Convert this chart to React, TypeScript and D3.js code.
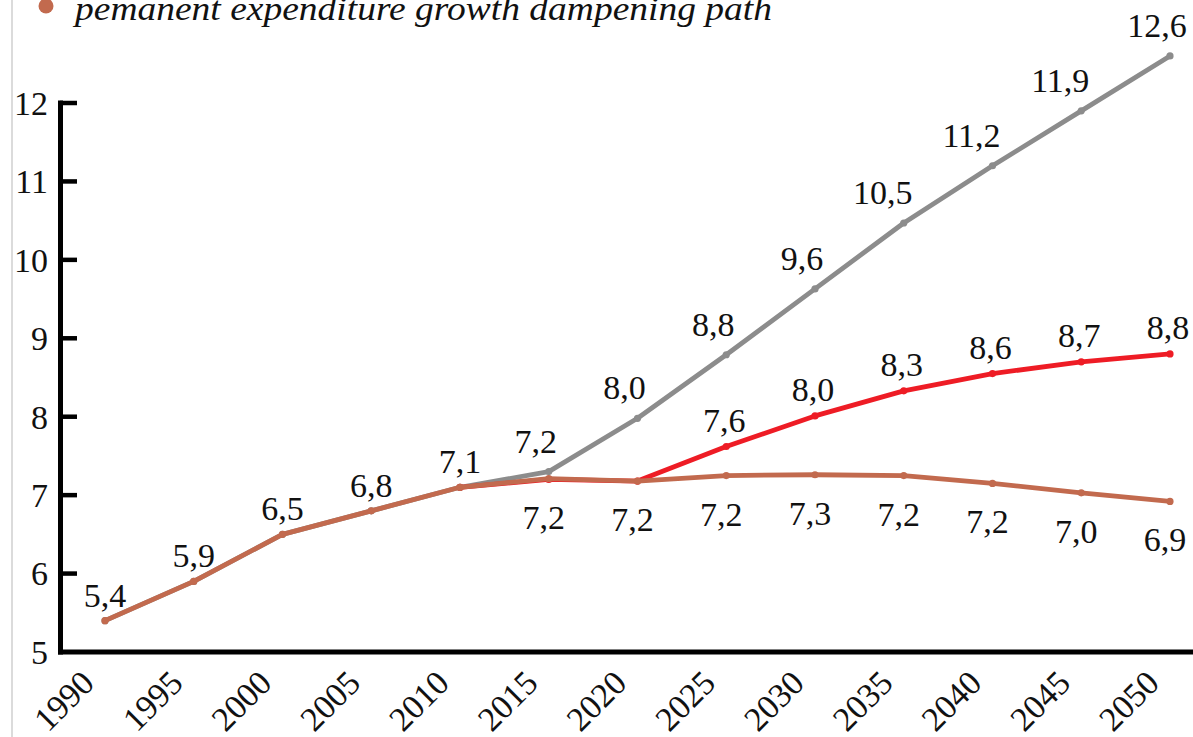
import React from "react";
import * as d3 from "d3";

const years = [1990, 1995, 2000, 2005, 2010, 2015, 2020, 2025, 2030, 2035, 2040, 2045, 2050];
const yTicks = [5, 6, 7, 8, 9, 10, 11, 12];

// baseline (gray) path
const grayValues: (number | null)[] = [5.4, 5.9, 6.5, 6.8, 7.1, 7.3, 7.98, 8.79, 9.63, 10.47, 11.2, 11.9, 12.6];
const grayLabels: (string | null)[] = [null, null, null, null, null, "7,2", "8,0", "8,8", "9,6", "10,5", "11,2", "11,9", "12,6"];
// red path
const redValues: (number | null)[] = [null, null, null, null, 7.1, 7.2, 7.18, 7.62, 8.01, 8.33, 8.55, 8.7, 8.8];
const redLabels: (string | null)[] = [null, null, null, null, null, null, null, "7,6", "8,0", "8,3", "8,6", "8,7", "8,8"];
// permanent expenditure growth dampening path (orange)
const orangeValues: (number | null)[] = [5.4, 5.9, 6.5, 6.8, 7.1, 7.21, 7.18, 7.25, 7.26, 7.25, 7.15, 7.03, 6.92];
const orangeLabelsAbove: (string | null)[] = ["5,4", "5,9", "6,5", "6,8", "7,1", null, null, null, null, null, null, null, null];
const orangeLabelsBelow: (string | null)[] = [null, null, null, null, null, "7,2", "7,2", "7,2", "7,3", "7,2", "7,2", "7,0", "6,9"];

const legendLabel = "pemanent expenditure growth dampening path";

const GRAY = "#8c8c8c";
const RED = "#ee1c25";
const ORANGE = "#c26a4e";
const FONT = "Liberation Serif, serif";

export default function App() {
  const W = 1193;
  const H = 737;
  const x = d3.scalePoint<number>().domain(years).range([105, 1170]);
  const y = d3.scaleLinear().domain([5, 12]).range([652, 103]);

  const line = d3
    .line<number | null>()
    .defined((d) => d !== null)
    .x((_, i) => x(years[i]) as number)
    .y((d) => y(d as number));

  const series = [
    { vals: grayValues, color: GRAY },
    { vals: redValues, color: RED },
    { vals: orangeValues, color: ORANGE },
  ];

  const fs = 34;
  const ts: React.CSSProperties = { fontFamily: FONT, fontSize: fs };

  return (
    <svg width={W} height={H} style={{ position: "absolute", left: 0, top: 0, background: "#fff", fontFamily: FONT }}>
      <rect x={0} y={0} width={W} height={H} fill="#fff" />
      <line x1={12} x2={12} y1={0} y2={H} stroke="#cfcfcf" strokeWidth={1.5} />

      {/* legend (partially visible) */}
      <circle cx={46} cy={6} r={7.5} fill={ORANGE} />
      <text
        x={75}
        y={20}
        textLength={697}
        lengthAdjust="spacingAndGlyphs"
        style={{ fontFamily: FONT, fontSize: 33, fontStyle: "italic" }}
        fill="#111"
      >
        {legendLabel}
      </text>

      {/* y axis */}
      <line x1={60.5} x2={60.5} y1={y(12) - 2.5} y2={y(5) + 2.5} stroke="#000" strokeWidth={5} />
      {yTicks.map((t) => (
        <g key={t}>
          {t > 5 && <line x1={60} x2={77} y1={y(t)} y2={y(t)} stroke="#000" strokeWidth={4.5} />}
          <text x={48} y={y(t)} dy="0.35em" textAnchor="end" style={ts} fill="#111">
            {t}
          </text>
        </g>
      ))}
      {/* x axis */}
      <line x1={58} x2={W} y1={y(5)} y2={y(5)} stroke="#000" strokeWidth={5} />
      {years.map((yr) => (
        <text
          key={yr}
          transform={`translate(${(x(yr) as number) - 9},${685}) rotate(-45)`}
          textAnchor="end"
          style={ts}
          fill="#111"
        >
          {yr}
        </text>
      ))}

      {/* lines */}
      {series.map((s, si) => (
        <g key={si}>
          <path d={line(s.vals) || ""} fill="none" stroke={s.color} strokeWidth={4.8} strokeLinejoin="round" />
          {s.vals.map((v, i) =>
            v === null ? null : <circle key={i} cx={x(years[i]) as number} cy={y(v)} r={3.6} fill={s.color} />
          )}
        </g>
      ))}

      {/* labels */}
      {grayLabels.map((l, i) =>
        l === null ? null : (
          <text
            key={"g" + i}
            x={(x(years[i]) as number) - (l.length > 3 && i < years.length - 1 ? 21 : 13)}
            y={y(grayValues[i] as number) - 19}
            textAnchor="middle"
            style={ts}
            fill="#111"
          >
            {l}
          </text>
        )
      )}
      {redLabels.map((l, i) =>
        l === null ? null : (
          <text key={"r" + i} x={(x(years[i]) as number) - 2} y={y(redValues[i] as number) - 15} textAnchor="middle" style={ts} fill="#111">
            {l}
          </text>
        )
      )}
      {orangeLabelsAbove.map((l, i) =>
        l === null ? null : (
          <text key={"oa" + i} x={x(years[i]) as number} y={y(orangeValues[i] as number) - 14} textAnchor="middle" style={ts} fill="#111">
            {l}
          </text>
        )
      )}
      {orangeLabelsBelow.map((l, i) =>
        l === null ? null : (
          <text key={"ob" + i} x={(x(years[i]) as number) - 5} y={y(orangeValues[i] as number) + 50} textAnchor="middle" style={ts} fill="#111">
            {l}
          </text>
        )
      )}
    </svg>
  );
}
